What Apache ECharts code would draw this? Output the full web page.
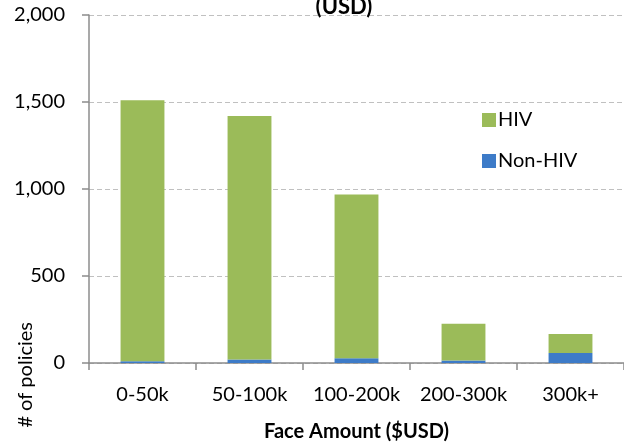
<!DOCTYPE html>
<html>
<head>
<meta charset="utf-8">
<script src="https://cdn.jsdelivr.net/npm/echarts@6/dist/echarts.min.js"></script>
<style>
  html, body { margin: 0; padding: 0; background: #fff; }
  #main { width: 624px; height: 447px; }
</style>
</head>
<body>
<div id="main"></div>
<script>
var categories = ['0-50k', '50-100k', '100-200k', '200-300k', '300k+'];
var nonHivValues = [10, 20, 28, 15, 57];
var hivValues = [1500, 1400, 940, 210, 110];
var yTicks = [0, 500, 1000, 1500, 2000];

var chart = echarts.init(document.getElementById('main'));
var font = 'Lato, "Open Sans", sans-serif';

var option = {
    animation: false,
    title: {
        text: '(USD)',
        left: 344,
        top: -4,
        padding: 0,
        textAlign: 'center',
        textStyle: { fontFamily: font, fontSize: 22, fontWeight: 'bold', color: '#000' }
    },
    legend: {
        orient: 'vertical',
        left: 477,
        top: 105,
        itemWidth: 14,
        itemHeight: 14,
        itemGap: 21,
        icon: 'rect',
        data: ['HIV', 'Non-HIV'],
        textStyle: { fontFamily: font, fontSize: 20, color: '#000', padding: [0, 0, 0, -3] }
    },
    grid: { left: 89, right: 0, top: 15, bottom: 84, containLabel: false },
    xAxis: {
        type: 'category',
        data: categories,
        name: 'Face Amount ($USD)',
        nameLocation: 'middle',
        nameGap: 59,
        nameTextStyle: { fontFamily: font, fontSize: 20, fontWeight: 'bold', color: '#000' },
        axisLine: { lineStyle: { color: '#8c8c8c', width: 1.5 } },
        axisTick: { show: true, alignWithLabel: false, length: 7, lineStyle: { color: '#8c8c8c', width: 1.5 } },
        axisLabel: { fontFamily: font, fontSize: 20, color: '#000', margin: 22, interval: 0 }
    },
    yAxis: {
        type: 'value',
        min: yTicks[0],
        max: yTicks[yTicks.length - 1],
        interval: 500,
        axisLine: { show: true, lineStyle: { color: '#8c8c8c', width: 1.5 } },
        axisTick: { show: true, length: 7, lineStyle: { color: '#8c8c8c', width: 1.5 } },
        axisLabel: {
            fontFamily: font, fontSize: 20, color: '#000', margin: 24,
            formatter: function (v) { return v.toLocaleString('en-US'); }
        },
        splitLine: { lineStyle: { color: '#c0c0c0', type: [5, 3], width: 1.2 } }
    },
    graphic: [{
        type: 'text',
        left: 16,
        top: 322,
        rotation: Math.PI / 2,
        style: { text: '# of policies', font: '20px ' + font, fill: '#000' }
    }],
    series: [
        {
            name: 'Non-HIV',
            type: 'bar',
            stack: 'total',
            barWidth: '41%',
            data: nonHivValues,
            itemStyle: { color: '#3d7bc8' }
        },
        {
            name: 'HIV',
            type: 'bar',
            stack: 'total',
            barWidth: '41%',
            data: hivValues,
            itemStyle: { color: '#9bbb59' }
        }
    ]
};
chart.setOption(option);
window.addEventListener('resize', chart.resize);
</script>
</body>
</html>
